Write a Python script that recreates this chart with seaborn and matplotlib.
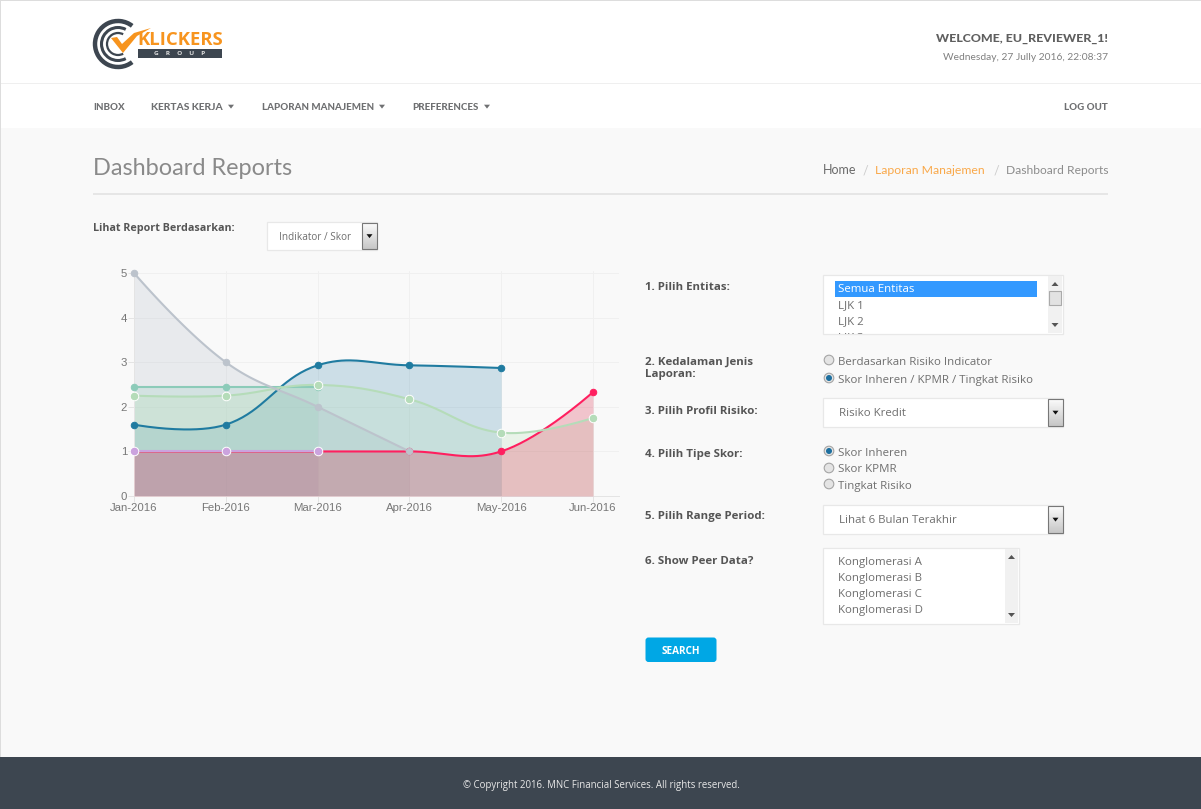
# dashboard report page with the area chart

import numpy as np
import pandas as pd
import matplotlib
matplotlib.use('Agg')
import matplotlib.pyplot as plt
from matplotlib.patches import Rectangle, Circle, Polygon, Arc, FancyBboxPatch
import seaborn as sns

# Chart data
months = ['Jan-2016', 'Feb-2016', 'Mar-2016', 'Apr-2016', 'May-2016', 'Jun-2016']
red_values = [1, 1, 1, 1, 1, 2.33]
blue_values = [1.6, 1.6, 2.93, 2.93, 2.87]
teal_values = [2.45, 2.45, 2.45]
green_values = [2.25, 2.25, 2.49, 2.17, 1.42, 1.75]
grey_values = [5, 3, 2, 1]
purple_values = [1, 1, 1]

# Page texts
nav_items = ['INBOX', 'KERTAS KERJA', 'LAPORAN MANAJEMEN', 'PREFERENCES']
entity_options = ['Semua Entitas', 'LJK 1', 'LJK 2', 'LJK 3']
peer_options = ['Konglomerasi A', 'Konglomerasi B', 'Konglomerasi C', 'Konglomerasi D']

sns.set_theme(style='white')
plt.rcParams['font.family'] = ['Open Sans', 'DejaVu Sans']

BODY = '#f9f9f9'
TEXT = '#6f6f6f'
LABEL = '#555555'
NAV = '#6f7072'
ORANGE = '#f7941e'
BORDER = '#e8e8e8'

W, H = 1201, 809
fig = plt.figure(figsize=(W / 100, H / 100), dpi=100, facecolor=BODY)

# Overlay in pixel coordinates for the page around the chart
ui = fig.add_axes([0, 0, 1, 1], zorder=0)
ui.set_xlim(0, W)
ui.set_ylim(H, 0)
ui.axis('off')


def rect(x, y, w, h, color, edge='none', lw=0, z=1):
    ui.add_patch(Rectangle((x, y), w, h, facecolor=color, edgecolor=edge, linewidth=lw, zorder=z))


def label(x, y, s, size=12, color=TEXT, weight='normal', ha='left', family='Open Sans', z=5):
    return ui.text(x, y, s, fontsize=size * 0.72, color=color, fontweight=weight, ha=ha,
                   va='center', family=family, zorder=z)


def caret(x, y, size=3, color=NAV, z=5):
    ui.add_patch(Polygon([(x - size, y - size * 0.6), (x + size, y - size * 0.6), (x, y + size * 0.7)],
                         facecolor=color, edgecolor='none', zorder=z))


def select_box(x, y, w, h, s, text_x, size=11.5):
    rect(x, y, w, h, 'white', BORDER, 0.9)
    label(text_x, y + h / 2 + 1, s, size=size)
    # arrow button
    ui.imshow(np.linspace(0.98, 0.78, 20).reshape(-1, 1), extent=(x + w - 15, x + w, y + h - 1, y + 1),
              cmap='gray', vmin=0, vmax=1, aspect='auto', zorder=2)
    rect(x + w - 15, y + 1, 15, h - 2, 'none', '#777777', 0.8, z=3)
    caret(x + w - 7.5, y + h / 2, size=3, color='#111111')


def radio(x, y, checked=False):
    ui.add_patch(Circle((x, y), 4.8, facecolor='#e4e4e4', edgecolor='#a5a5a5', linewidth=0.8, zorder=3))
    if checked:
        ui.add_patch(Circle((x, y), 3, facecolor='#1d6f9f', edgecolor='none', zorder=4))


def scrollbar(x, y, w, h, thumb=None):
    rect(x, y, w, h, '#f1f1f1', z=2)
    mid = x + w / 2
    ui.add_patch(Polygon([(mid - 3.5, y + 10), (mid + 3.5, y + 10), (mid, y + 6)], facecolor='#555555',
                         edgecolor='none', zorder=3))
    ui.add_patch(Polygon([(mid - 3.5, y + h - 10), (mid + 3.5, y + h - 10), (mid, y + h - 6)],
                         facecolor='#555555', edgecolor='none', zorder=3))
    if thumb:
        rect(x + 1, thumb, w - 2, 14, '#e2e2e2', '#aaaaaa', 0.8, z=3)


# Header, nav and footer
rect(0, 0, W, 128, 'white', z=0)
rect(0, 83, W, 1, '#efefef')
rect(0, 757, W, 52, '#3d4650')
rect(0, 0, W, 1, '#dddddd')
rect(0, 0, 1, 757, '#dddddd')

# Logo
for r, lw, t1 in [(23, 3.2, 52), (16.5, 2.2, 62), (11, 1.6, 62)]:
    ui.add_patch(Arc((118, 44), 2 * r, 2 * r, theta1=t1, theta2=360 - t1, color='#3d4650', linewidth=lw, zorder=3))
ui.add_patch(Polygon([(111, 38), (117, 37), (122, 44), (134, 33), (151, 28), (137, 36), (123, 53)],
                     facecolor=ORANGE, edgecolor='none', zorder=4))
label(137, 40, 'KLICKERS', size=18.5, color=ORANGE, weight='bold')
rect(138, 49, 84, 9, '#3d4650', z=3)
label(180, 53.5, 'G    R    O    U    P', size=6.5, color='#dddddd', weight='bold', ha='center')

label(1108, 38, 'WELCOME, EU_REVIEWER_1!', size=12.4, color='#5f5f5f', weight='black', ha='right', family='Lato')
label(1108, 57, 'Wednesday, 27 Jully 2016, 22:08:37', size=10.2, color='#808080', ha='right', family='Lato')

nav_x = [93.5, 151, 262, 412]
nav_caret = [231, 382, 487]
for x, s, size in zip(nav_x, nav_items, [9.8, 10.2, 9.8, 9.8]):
    label(x, 107, s, size=size, color=NAV, weight='black', family='Lato')
for x in nav_caret:
    caret(x, 106.5)
label(1108, 107, 'LOG OUT', size=9.8, color=NAV, weight='black', ha='right', family='Lato')

# Page title and breadcrumb
label(93, 168, 'Dashboard Reports', size=23.5, color='#8a8a8a', family='Lato')
rect(93, 193, 1015, 1.5, '#e6e6e6')
label(823, 170, 'Home', size=12.5, color='#6b6b6b', family='Lato')
label(863, 170, '/', size=12.5, color='#cccccc', family='Lato')
label(875, 170, 'Laporan Manajemen', size=12.3, color='#f9a94a', family='Lato')
label(994, 170, '/', size=12.5, color='#cccccc', family='Lato')
label(1108, 170, 'Dashboard Reports', size=12, color='#8c8c8c', ha='right', family='Lato')

label(93, 228, 'Lihat Report Berdasarkan:', size=10.8, color=LABEL, weight='bold')
select_box(267, 222, 110, 28, 'Indikator / Skor', 279, size=10)

# Form on the right
label(645, 288, '1. Pilih Entitas:', size=11.5, color=LABEL, weight='bold')
rect(823, 275, 240, 59, 'white', BORDER, 0.9)
rect(835, 281, 202, 16, '#3399ff', z=2)
scrollbar(1048, 276, 14, 57, thumb=291)
clip = Rectangle((824, 276), 224, 58, transform=ui.transData)
for i, s in enumerate(entity_options):
    t = label(838, 290 + 16 * i, s, size=11.5, color='white' if i == 0 else TEXT)
    t.set_clip_path(clip)
    t.set_clip_on(True)

label(645, 362, '2. Kedalaman Jenis', size=11.5, color=LABEL, weight='bold')
label(645, 374, 'Laporan:', size=11.5, color=LABEL, weight='bold')
radio(829, 360)
label(838, 362, 'Berdasarkan Risiko Indicator', size=11.5)
radio(829, 378, True)
label(838, 380, 'Skor Inheren / KPMR / Tingkat Risiko', size=11.5)

label(645, 411, '3. Pilih Profil Risiko:', size=11.5, color=LABEL, weight='bold')
select_box(823, 398, 240, 29, 'Risiko Kredit', 839)

label(645, 454, '4. Pilih Tipe Skor:', size=11.5, color=LABEL, weight='bold')
radio(829, 451, True)
label(838, 453, 'Skor Inheren', size=11.5)
radio(829, 468)
label(838, 469, 'Skor KPMR', size=11.5)
radio(829, 484)
label(838, 486, 'Tingkat Risiko', size=11.5)

label(645, 517, '5. Pilih Range Period:', size=11.5, color=LABEL, weight='bold')
select_box(823, 505, 240, 29, 'Lihat 6 Bulan Terakhir', 839)

label(645, 561, '6. Show Peer Data?', size=11.5, color=LABEL, weight='bold')
rect(823, 548, 196, 76, 'white', BORDER, 0.9)
scrollbar(1005, 549, 13, 74)
for i, s in enumerate(peer_options):
    label(838, 563 + 16 * i, s, size=11.5)

ui.add_patch(FancyBboxPatch((647, 639), 68, 21.5, boxstyle='round,pad=1.5,rounding_size=3',
                            facecolor='#00a7e5', edgecolor='none', zorder=2))
label(681, 651, 'SEARCH', size=10, color='white', weight='bold', ha='center')

label(601, 785.5, '© Copyright 2016. MNC Financial Services. All rights reserved.', size=9.7,
      color='#e8e8e8', ha='center')

# Chart axes: Jan at px 134, Jun at px 593, y=0 at px 496, y=5 at px 273
px_x = 459 / 5
px_y = 223 / 5
left, right, top, bottom = 134, 619, 271, 496
ax = fig.add_axes([left / W, 1 - bottom / H, (right - left) / W, (bottom - top) / H], zorder=2)
ax.patch.set_alpha(0)
ax.set_xlim(0, (right - left) / px_x)
ax.set_ylim(0, (bottom - top) / px_y)


def smooth_line(values, tension=0.4, steps=40):
    # bezier through the points, handles worked out in pixel space like the original widget
    xs = np.arange(len(values)) * px_x
    ys = np.array(values, dtype=float) * px_y
    pts = np.column_stack([xs, ys])
    before = pts.copy()
    after = pts.copy()
    for i in range(1, len(pts) - 1):
        d1 = np.hypot(*(pts[i] - pts[i - 1]))
        d2 = np.hypot(*(pts[i + 1] - pts[i]))
        before[i] = pts[i] - tension * d1 / (d1 + d2) * (pts[i + 1] - pts[i - 1])
        after[i] = pts[i] + tension * d2 / (d1 + d2) * (pts[i + 1] - pts[i - 1])
    curve = []
    t = np.linspace(0, 1, steps)[:, None]
    for i in range(len(pts) - 1):
        curve.append((1 - t) ** 3 * pts[i] + 3 * (1 - t) ** 2 * t * after[i]
                     + 3 * (1 - t) * t ** 2 * before[i + 1] + t ** 3 * pts[i + 1])
    curve = np.vstack(curve)
    return curve[:, 0] / px_x, curve[:, 1] / px_y


# values, line colour, fill colour, fill alpha, fill layer, white ring on the points
series = [
    (red_values, '#ff1f5f', '#d80a30', 0.22, 2.9, False),
    (blue_values, '#1f7ba0', '#4890b4', 0.25, 2.1, False),
    (teal_values, '#8ccbb9', '#8cc8b8', 0.22, 2.2, False),
    (green_values, '#b5dcb9', '#bce4bc', 0.25, 2.3, True),
    (grey_values, '#bcc3cc', '#b8c0cc', 0.25, 2.0, False),
    (purple_values, '#cba3de', '#c8a0dc', 0.12, 2.5, True),
]

for z, (values, line_color, fill_color, fill_alpha, fill_z, ring) in enumerate(series):
    cx, cy = smooth_line(values)
    ax.fill_between(cx, 0, cy, color=fill_color, alpha=fill_alpha, linewidth=0, zorder=fill_z)
    sns.lineplot(x=cx, y=cy, sort=False, estimator=None, color=line_color, linewidth=1.5, ax=ax,
                 zorder=4 + z * 0.1)
    df = pd.DataFrame({'x': np.arange(len(values)), 'y': values})
    sns.scatterplot(data=df, x='x', y='y', color=line_color, s=38 if ring else 22, ax=ax, zorder=6 + z * 0.1,
                    clip_on=False, edgecolor='white' if ring else line_color, linewidth=0.7)

ax.set_xticks(range(len(months)))
ax.set_xticklabels(months)
ax.set_yticks(range(6))
ax.set_xlabel('')
ax.set_ylabel('')
ax.grid(True, color='#f0f0f0', linewidth=0.72)
ax.set_axisbelow(True)
ax.tick_params(axis='both', length=4, width=0.72, color='#e4e4e4', labelsize=8.2, labelcolor='#777777', pad=1,
               bottom=True, left=True)
for lab in ax.get_xticklabels() + ax.get_yticklabels():
    lab.set_family('Liberation Sans')
for side in ['top', 'right']:
    ax.spines[side].set_visible(False)
for side in ['left', 'bottom']:
    ax.spines[side].set_color('#e4e4e4')
    ax.spines[side].set_linewidth(0.72)

fig.savefig('out.png', dpi=100, facecolor=fig.get_facecolor())
